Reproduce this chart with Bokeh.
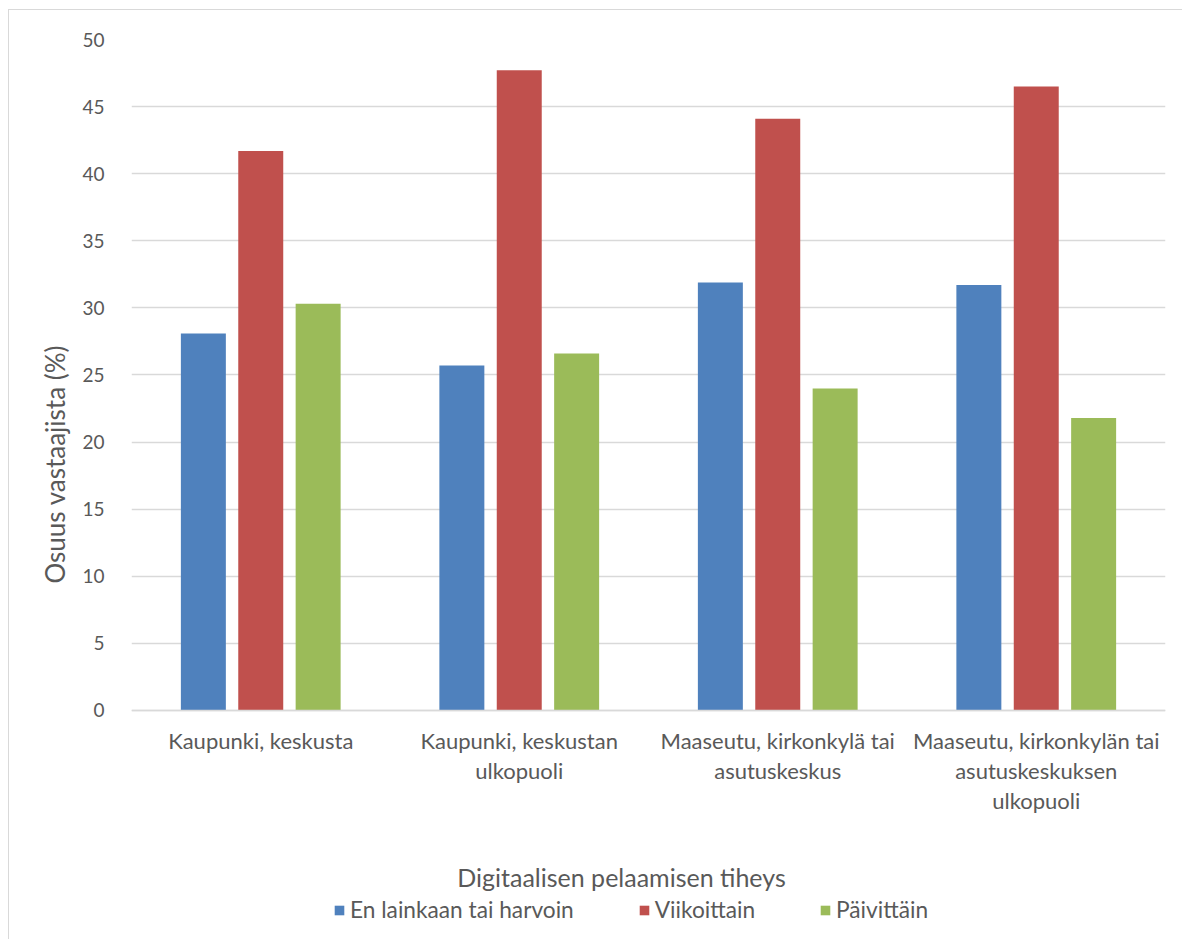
from bokeh.plotting import figure
from bokeh.models import FactorRange, Legend, LegendItem, Label, Title, FixedTicker, ColumnDataSource
from bokeh.transform import dodge
from bokeh.embed import file_html
from bokeh.resources import INLINE

categories = ["Kaupunki, keskusta", "Kaupunki, keskustan\nulkopuoli",
              "Maaseutu, kirkonkylä tai\nasutuskeskus",
              "Maaseutu, kirkonkylän tai\nasutuskeskuksen\nulkopuoli"]
series_names = ["En lainkaan tai harvoin", "Viikoittain", "Päivittäin"]
harvoin = [28.1, 25.7, 31.9, 31.7]
viikoittain = [41.7, 47.7, 44.1, 46.5]
paivittain = [30.3, 26.6, 24.0, 21.8]
y_ticks = [0, 5, 10, 15, 20, 25, 30, 35, 40, 45, 50]
y_title = "Osuus vastaajista (%)"
x_title = "Digitaalisen pelaamisen tiheys"

colors = ["#4F81BD", "#C0504D", "#9BBB59"]
FONT = "Lato"
TXT = "#595959"

src = ColumnDataSource(dict(cat=categories, a=harvoin, b=viikoittain, c=paivittain))

# y range extends below zero so the area under the axis (labels, title, legend) lies in the frame
p = figure(x_range=FactorRange(*categories, range_padding=0), y_range=(-16.99, 50),
           width=1174, height=930, output_backend="svg", toolbar_location=None,
           min_border_left=122, min_border_right=18, min_border_top=29, min_border_bottom=2)
p.styles = {"border-left": "1px solid #d9d9d9", "border-top": "1px solid #d9d9d9",
            "margin-left": "8px", "margin-top": "9px"}
p.outline_line_color = None

renderers = []
for key, off, col in zip(["a", "b", "c"], [-0.222, 0.0, 0.222], colors):
    r = p.vbar(x=dodge("cat", off, range=p.x_range), top=key, bottom=0, width=0.174, source=src,
               fill_color=col, line_color=None)
    renderers.append(r)

ticker = FixedTicker(ticks=y_ticks)
p.xgrid.grid_line_color = None
p.ygrid.ticker = ticker
p.ygrid.grid_line_color = "#d9d9d9"
p.ygrid.grid_line_width = 1.3
p.yaxis.ticker = ticker
p.yaxis.axis_line_color = None
p.yaxis.major_tick_line_color = None
p.yaxis.minor_tick_line_color = None
p.yaxis.major_label_text_font = FONT
p.yaxis.major_label_text_font_size = "19px"
p.yaxis.major_label_text_color = TXT
p.yaxis.major_label_standoff = 21

p.xaxis.fixed_location = 0
p.xaxis.axis_line_color = "#d9d9d9"
p.xaxis.axis_line_width = 1.3
p.xaxis.major_tick_line_color = None
p.xaxis.minor_tick_line_color = None
p.xaxis.major_label_text_font = FONT
p.xaxis.major_label_text_font_size = "22px"
p.xaxis.major_label_text_color = TXT
p.xaxis.major_label_text_line_height = 1.1
p.xaxis.major_label_standoff = 11
p.xaxis.major_label_orientation = "horizontal"

p.add_layout(Title(text=y_title, align="left", offset=355, standoff=17,
                   text_font=FONT, text_font_size="26px", text_font_style="normal",
                   text_color=TXT), "left")

p.add_layout(Label(x=490, y=62, x_units="screen", y_units="screen", text=x_title,
                   text_align="center", text_baseline="middle",
                   text_font=FONT, text_font_size="25px", text_color=TXT))

legend = Legend(items=[LegendItem(label=n, renderers=[r]) for n, r in zip(series_names, renderers)],
                orientation="horizontal", location=(202, 15), spacing=64,
                glyph_width=12, glyph_height=12, label_standoff=5,
                label_text_font=FONT, label_text_font_size="22.7px", label_text_color=TXT,
                border_line_color=None, background_fill_alpha=0, padding=0, margin=0)
p.add_layout(legend, "center")

open("out.html", "w").write(file_html(p, INLINE))
